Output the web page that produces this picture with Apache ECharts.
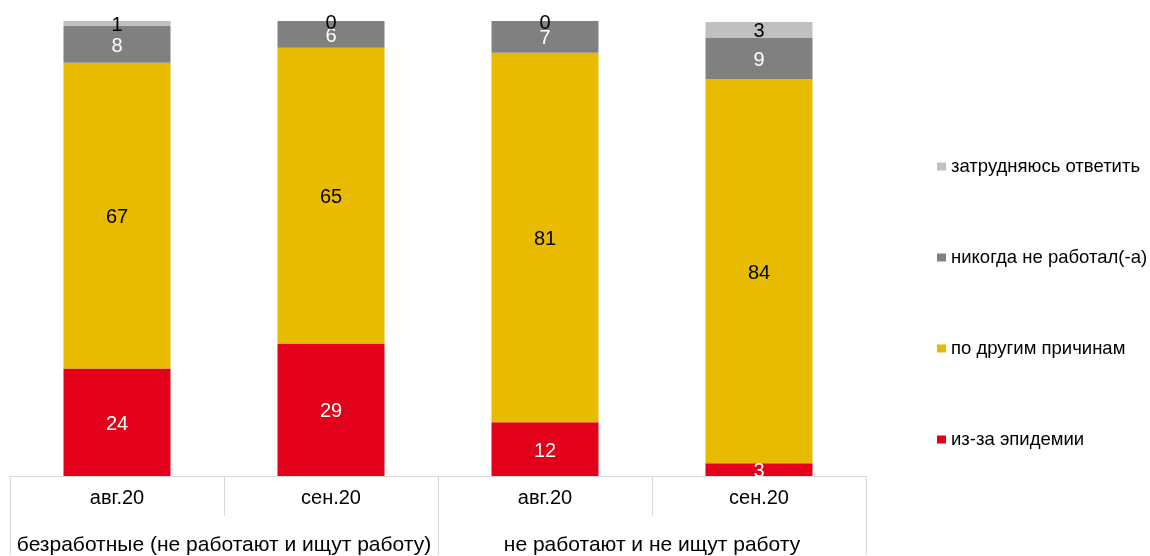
<!DOCTYPE html>
<html>
<head>
<meta charset="utf-8">
<script src="https://cdn.jsdelivr.net/npm/echarts@6/dist/echarts.min.js"></script>
<style>
  html, body { margin: 0; padding: 0; background: #fff; }
  #chart { width: 1150px; height: 556px; }
</style>
</head>
<body>
<div id="chart"></div>
<script>
// подписи по оси X
var months = ['авг.20', 'сен.20', 'авг.20', 'сен.20'];
var groups = ['безработные (не работают и ищут работу)', 'не работают и не ищут работу'];

// доли, %
var epidemic = [23.6, 29.1, 11.8, 2.8];     // из-за эпидемии
var otherReasons = [67.2, 65.0, 81.2, 84.4]; // по другим причинам
var neverWorked = [8.1, 5.9, 7.0, 9.2];     // никогда не работал(-а)
var hardToSay = [1.1, 0, 0, 3.4];           // затрудняюсь ответить

var chart = echarts.init(document.getElementById('chart'));

function barLabel(color) {
  return {
    show: true,
    position: 'inside',
    offset: [0, 2],
    color: color,
    fontSize: 20,
    fontFamily: 'Liberation Sans, Arial, sans-serif',
    formatter: function (p) { return Math.round(p.value); }
  };
}

var option = {
  animation: false,
  textStyle: { fontFamily: 'Liberation Sans, Arial, sans-serif' },
  grid: { left: 10, right: 284, top: 21, bottom: 79 },
  legend: {
    orient: 'vertical',
    left: 937,
    top: 157,
    padding: 0,
    itemWidth: 9,
    itemHeight: 8,
    itemGap: 72,
    icon: 'rect',
    textStyle: { fontSize: 18.5, lineHeight: 19, color: '#000' },
    data: ['затрудняюсь ответить', 'никогда не работал(-а)', 'по другим причинам', 'из-за эпидемии']
  },
  xAxis: [
    {
      type: 'category',
      data: months,
      axisLine: { show: true, lineStyle: { color: '#d9d9d9', width: 1 } },
      axisTick: { show: true, length: 40, lineStyle: { color: '#d9d9d9' } },
      axisLabel: { interval: 0, margin: 12, fontSize: 20, color: '#000' }
    },
    {
      type: 'category',
      position: 'bottom',
      data: groups,
      axisLine: { show: false },
      axisTick: { show: true, length: 79, lineStyle: { color: '#d9d9d9' } },
      axisLabel: { interval: 0, margin: 59, fontSize: 21, color: '#000' }
    }
  ],
  yAxis: {
    type: 'value',
    min: 0,
    max: 100,
    show: false
  },
  series: [
    {
      name: 'из-за эпидемии', type: 'bar', stack: 'all', barWidth: '50%',
      itemStyle: { color: '#e2001a' }, label: barLabel('#fff'), data: epidemic
    },
    {
      name: 'по другим причинам', type: 'bar', stack: 'all',
      itemStyle: { color: '#e9bb00' }, label: barLabel('#000'), data: otherReasons
    },
    {
      name: 'никогда не работал(-а)', type: 'bar', stack: 'all',
      itemStyle: { color: '#808080' }, label: barLabel('#fff'), data: neverWorked
    },
    {
      name: 'затрудняюсь ответить', type: 'bar', stack: 'all',
      itemStyle: { color: '#c0c0c0' }, label: barLabel('#000'), data: hardToSay
    }
  ]
};

chart.setOption(option);
</script>
</body>
</html>
